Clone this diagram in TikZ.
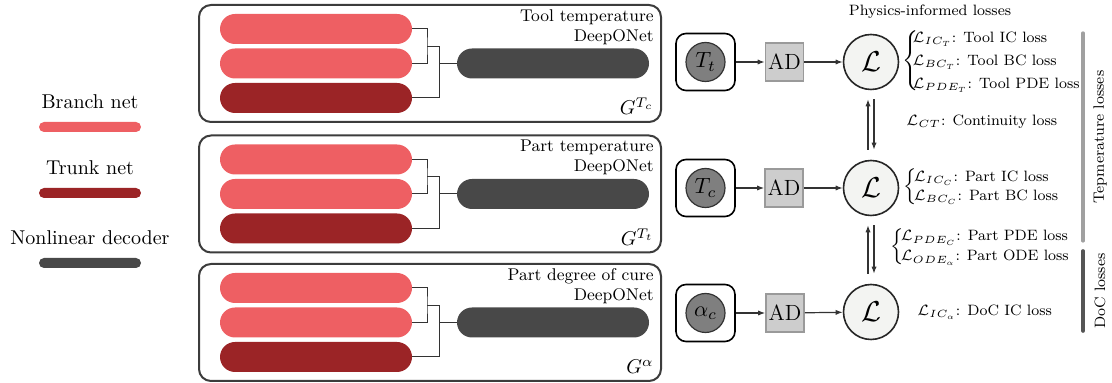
\RequirePackage{fix-cm}
\documentclass[tikz,border=0pt]{standalone}
\usetikzlibrary{calc,arrows.meta}

\definecolor{branchred}{HTML}{EE5F63}
\definecolor{trunkred}{HTML}{9B2426}
\definecolor{decgray}{HTML}{484848}
\definecolor{framegray}{HTML}{3C3C3C}
\definecolor{innergray}{HTML}{7F7F7F}
\definecolor{adgray}{HTML}{CDCDCD}
\definecolor{adedge}{HTML}{9A9A9A}
\definecolor{lossfill}{HTML}{F3F4F2}
\definecolor{tempbar}{HTML}{A0A0A0}
\definecolor{docbar}{HTML}{555555}

% One DeepONet block: #1 name prefix, #2 left, #3 top, #4 title, #5 operator label
\newcommand{\deeponetblock}[5]{%
  \begin{scope}[shift={(#2,#3)}]
    \node[panel] (#1box) at (231,58.5) {};
    \node[branch] (#1b1) at (117,24) {};
    \node[branch] (#1b2) at (117,58.5) {};
    \node[trunk]  (#1tr) at (117,93) {};
    \node[decoder] (#1dec) at (354,58.5) {};
    \coordinate (#1j) at (228,41.25);
    \coordinate (#1k) at (240,41.25);
    \draw[link] (#1b1.east) -| (#1j) |- (#1b2.east);
    \draw[link] (#1j) -- (#1k) |- (#1tr.east);
    \draw[link] (#1k) |- (#1dec.west);
    \node[paneltext, anchor=north east, align=right] (#1title) at (455,4) {#4};
    \node[anchor=base east, inner sep=0pt] (#1op) at (455,110) {$#5$};
  \end{scope}}

\begin{document}
\begin{tikzpicture}[x=0.5pt,y=-0.5pt,
  bar/.style={rectangle, rounded corners=7.5pt, minimum width=96pt,
    minimum height=15pt, inner sep=0pt},
  branch/.style={bar, fill=branchred},
  trunk/.style={bar, fill=trunkred},
  decoder/.style={bar, fill=decgray},
  legbar/.style={rectangle, rounded corners=2.5pt, minimum width=51pt,
    minimum height=5pt, inner sep=0pt},
  panel/.style={draw=framegray, line width=1pt, rounded corners=6pt,
    minimum width=231pt, minimum height=58.5pt, inner sep=0pt},
  link/.style={draw=black!80, line width=0.5pt},
  paneltext/.style={inner sep=0pt, font=\fontsize{8.5}{10}\selectfont},
  small/.style={inner sep=0pt, font=\fontsize{7.5}{10}\selectfont},
  grouptext/.style={inner sep=0pt, font=\fontsize{7.5}{10}\selectfont},
  srcbox/.style={draw=black, line width=0.8pt, rounded corners=5pt,
    minimum width=29.5pt, minimum height=28.5pt, inner sep=0pt},
  srcin/.style={circle, draw=black!80, line width=0.6pt, fill=innergray,
    minimum size=19.5pt, inner sep=0pt, font=\fontsize{11}{13}\selectfont},
  adbox/.style={rectangle, draw=adedge, line width=0.8pt, fill=adgray,
    minimum size=19pt, inner sep=0pt, font=\fontsize{11}{13}\selectfont},
  losscirc/.style={circle, draw=black!85, line width=0.8pt, fill=lossfill,
    minimum size=27.5pt, inner sep=0pt, font=\Large},
  arr/.style={draw=black!80, line width=0.6pt, -{Latex[length=3.5pt,width=2.6pt]}}
]
\useasboundingbox (0,0) rectangle (1112,383);

% legend
\node (lgb) at (90,102) {Branch net};
\node[legbar, fill=branchred] (lgbbar) at (90,127) {};
\node (lgt) at (90,168) {Trunk net};
\node[legbar, fill=trunkred] (lgtbar) at (90,193) {};
\node (lgd) at (90,238) {Nonlinear decoder};
\node[legbar, fill=decgray] (lgdbar) at (90,263) {};

% the three DeepONets
\deeponetblock{pa}{199}{5}{Tool temperature\\DeepONet}{G^{T_c}}
\deeponetblock{pb}{199}{135.5}{Part temperature\\DeepONet}{G^{T_t}}
\deeponetblock{pc}{199}{264}{Part degree of cure\\DeepONet}{G^{\alpha}}

% outputs, automatic differentiation and losses
\node[grouptext] (phys) at (930,12) {Physics-informed losses};

\node[srcbox] (s1) at (705.5,62) {};
\node[srcin] (s1in) at (s1) {$T_t$};
\node[adbox] (ad1) at (784.5,62) {AD};
\node[losscirc] (l1) at (871,62) {$\mathcal{L}$};

\node[srcbox] (s2) at (705.5,188) {};
\node[srcin] (s2in) at (s2) {$T_c$};
\node[adbox] (ad2) at (784,188) {AD};
\node[losscirc] (l2) at (871,188) {$\mathcal{L}$};

\node[srcbox] (s3) at (705.5,313) {};
\node[srcin] (s3in) at (s3) {$\alpha_c$};
\node[adbox] (ad3) at (785,313) {AD};
\node[losscirc] (l3) at (871,312) {$\mathcal{L}$};

\draw[arr] (s1) -- (ad1);
\draw[arr] (ad1) -- (l1);
\draw[arr] (s2) -- (ad2);
\draw[arr] (ad2) -- (l2);
\draw[arr] (s3) -- (ad3);
\draw[arr] (ad3) -- (l3);

\draw[arr] ([xshift=-1.5pt,yshift=5pt]l2.north) -- ([xshift=-1.5pt,yshift=-4.5pt]l1.south);
\draw[arr] ([xshift=1.5pt,yshift=-4.5pt]l1.south) -- ([xshift=1.5pt,yshift=5pt]l2.north);
\draw[arr] ([xshift=-1.5pt,yshift=5pt]l3.north) -- ([xshift=-1.5pt,yshift=-4.5pt]l2.south);
\draw[arr] ([xshift=1.5pt,yshift=-4.5pt]l2.south) -- ([xshift=1.5pt,yshift=5pt]l3.north);

% loss terms
\node[small, anchor=west] (tool) at (902,61)
  {\renewcommand{\arraystretch}{1.15}$\Biggl\{\!\!\begin{array}{@{}l@{}}
    \mathcal{L}_{IC_T}\mbox{: Tool IC loss}\\
    \mathcal{L}_{BC_T}\mbox{: Tool BC loss}\\
    \mathcal{L}_{PDE_T}\mbox{: Tool PDE loss}
  \end{array}$};
\node[small, anchor=west] (cont) at (906,122) {$\mathcal{L}_{CT}$: Continuity loss};
\node[small, anchor=west] (part) at (903,187)
  {\renewcommand{\arraystretch}{0.95}$\Bigl\{\!\begin{array}{@{}l@{}}
    \mathcal{L}_{IC_C}\mbox{: Part IC loss}\\
    \mathcal{L}_{BC_C}\mbox{: Part BC loss}
  \end{array}$};
\node[small, anchor=west] (pde) at (890,247)
  {\renewcommand{\arraystretch}{1.0}$\Bigl\{\!\begin{array}{@{}l@{}}
    \mathcal{L}_{PDE_C}\mbox{: Part PDE loss}\\
    \mathcal{L}_{ODE_\alpha}\mbox{: Part ODE loss}
  \end{array}$};
\node[small, anchor=west] (doc) at (917,312) {$\mathcal{L}_{IC_\alpha}$: DoC IC loss};

% loss groups
\draw[tempbar, line width=1.6pt, line cap=round] (1083,33) -- (1083,241);
\draw[docbar, line width=1.8pt, line cap=round] (1083,251) -- (1083,331);
\node[grouptext, rotate=90] (tempgrp) at (1100,137) {Tepmerature losses};
\node[grouptext, rotate=90] (docgrp) at (1100,291) {DoC losses};
\end{tikzpicture}
\end{document}
